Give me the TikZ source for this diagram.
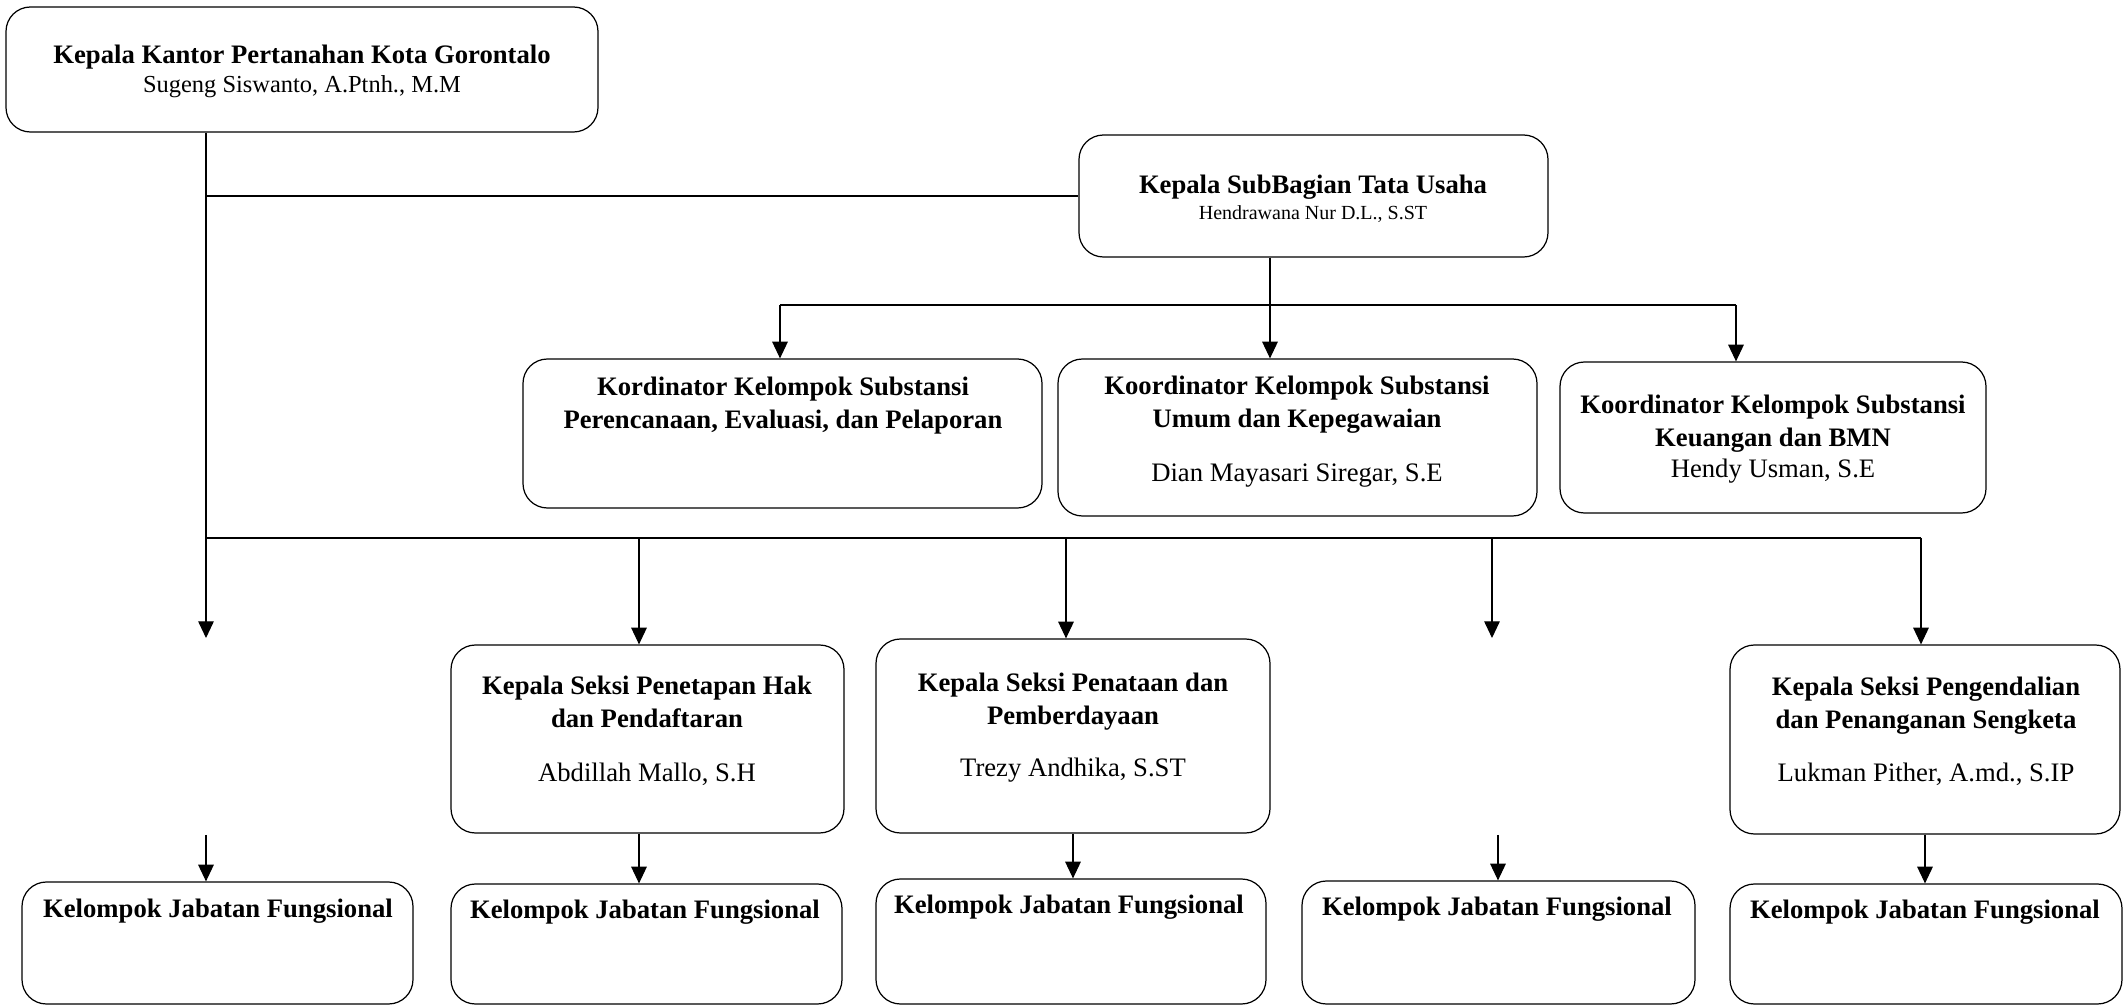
\documentclass[tikz,border=0pt]{standalone}
\usepackage{fontspec}
\setmainfont{Liberation Serif}
\usetikzlibrary{arrows.meta}
\newcommand{\pxu}{0.45pt}
\tikzset{
  box/.style={draw, line width=0.55pt, rounded corners=11pt, inner sep=0pt},
  ttl/.style={font=\fontsize{12}{14.85}\selectfont\bfseries, align=center, inner sep=0pt, anchor=north},
  nm/.style={font=\fontsize{12}{14}\selectfont, inner sep=0pt, anchor=base},
  link/.style={line width=0.5pt},
  arr/.style={link, -{Triangle[length=7.5pt,width=7pt]}}
}

\begin{document}
\begin{tikzpicture}[x=0.45pt, y=-0.45pt]
\useasboundingbox (0,0) rectangle (2127,1007);

% kepala kantor dan subbagian
\node[box, minimum width=592*\pxu, minimum height=125*\pxu] (kakan) at (302,69.5) {};
\node[ttl] (kakanT) at (302,45) {Kepala Kantor Pertanahan Kota Gorontalo};
\node[nm, font=\fontsize{11}{13}\selectfont] (kakanN) at (302,93) {Sugeng Siswanto, A.Ptnh., M.M};

\node[box, minimum width=469*\pxu, minimum height=122*\pxu] (tu) at (1313.5,196) {};
\node[ttl] (tuT) at (1313,175) {Kepala SubBagian Tata Usaha};
\node[nm, font=\fontsize{9}{11}\selectfont] (tuN) at (1313,220) {Hendrawana Nur D.L., S.ST};

% koordinator kelompok substansi
\node[box, minimum width=519*\pxu, minimum height=149*\pxu] (ksPer) at (782.5,433.5) {};
\node[ttl] (ksPerT) at (783,377) {Kordinator Kelompok Substansi\\Perencanaan, Evaluasi, dan Pelaporan};

\node[box, minimum width=479*\pxu, minimum height=157*\pxu] (ksUmum) at (1297.5,437.5) {};
\node[ttl] (ksUmumT) at (1297,376) {Koordinator Kelompok Substansi\\Umum dan Kepegawaian};
\node[nm] (ksUmumN) at (1297,482) {Dian Mayasari Siregar, S.E};

\node[box, minimum width=426*\pxu, minimum height=151*\pxu] (ksKeu) at (1773,437.5) {};
\node[ttl] (ksKeuT) at (1773,395) {Koordinator Kelompok Substansi\\Keuangan dan BMN};
\node[nm] (ksKeuN) at (1773,478) {Hendy Usman, S.E};

% kepala seksi
\node[box, minimum width=393*\pxu, minimum height=188*\pxu] (sPhp) at (647.5,739) {};
\node[ttl] (sPhpT) at (647,676) {Kepala Seksi Penetapan Hak\\dan Pendaftaran};
\node[nm] (sPhpN) at (647,782) {Abdillah Mallo, S.H};

\node[box, minimum width=394*\pxu, minimum height=194*\pxu] (sPp) at (1073,736) {};
\node[ttl] (sPpT) at (1073,673) {Kepala Seksi Penataan dan\\Pemberdayaan};
\node[nm] (sPpN) at (1073,777) {Trezy Andhika, S.ST};

\node[box, minimum width=390*\pxu, minimum height=189*\pxu] (sPps) at (1925,739.5) {};
\node[ttl] (sPpsT) at (1926,677) {Kepala Seksi Pengendalian\\dan Penanganan Sengketa};
\node[nm] (sPpsN) at (1926,782) {Lukman Pither, A.md., S.IP};

% kelompok jabatan fungsional
\node[box, minimum width=391*\pxu, minimum height=122*\pxu] (jf1) at (217.5,943) {};
\node[ttl] (jf1T) at (218,899) {Kelompok Jabatan Fungsional};
\node[box, minimum width=391*\pxu, minimum height=120*\pxu] (jf2) at (646.5,944) {};
\node[ttl] (jf2T) at (645,900) {Kelompok Jabatan Fungsional};
\node[box, minimum width=390*\pxu, minimum height=125*\pxu] (jf3) at (1071,941.5) {};
\node[ttl] (jf3T) at (1069,895) {Kelompok Jabatan Fungsional};
\node[box, minimum width=393*\pxu, minimum height=123*\pxu] (jf4) at (1498.5,942.5) {};
\node[ttl] (jf4T) at (1497,897) {Kelompok Jabatan Fungsional};
\node[box, minimum width=392*\pxu, minimum height=120*\pxu] (jf5) at (1926,944) {};
\node[ttl] (jf5T) at (1925,900) {Kelompok Jabatan Fungsional};

% titik cabang
\coordinate (b1) at (206,538); \coordinate (b2) at (639,538);
\coordinate (b3) at (1066,538); \coordinate (b4) at (1492,538);
\coordinate (b5) at (1921,538);
\coordinate (e1) at (206,638); \coordinate (e4) at (1492,638);
\coordinate (k1) at (780,305); \coordinate (k2) at (1270,305);
\coordinate (k3) at (1736,305);
\coordinate (f1) at (206,835); \coordinate (f4) at (1498,835);

% garis
\draw[link] (kakan.south -| b1) -- (b1) -- (b5);
\draw[link] (b1 |- tu.west) -- (tu.west);
\draw[link] (tu.south -| k2) -- (k2);
\draw[link] (k1) -- (k3);
\draw[arr] (k1) -- (k1 |- ksPer.north);
\draw[arr] (k2) -- (k2 |- ksUmum.north);
\draw[arr] (k3) -- (k3 |- ksKeu.north);
\draw[arr] (b1) -- (e1);
\draw[arr] (b2) -- (b2 |- sPhp.north);
\draw[arr] (b3) -- (b3 |- sPp.north);
\draw[arr] (b4) -- (e4);
\draw[arr] (b5) -- (b5 |- sPps.north);
\draw[arr] (f1) -- (f1 |- jf1.north);
\draw[arr] (sPhp.south -| b2) -- (b2 |- jf2.north);
\draw[arr] (sPp.south) -- (sPp.south |- jf3.north);
\draw[arr] (f4) -- (f4 |- jf4.north);
\draw[arr] (sPps.south) -- (sPps.south |- jf5.north);
\end{tikzpicture}
\end{document}
